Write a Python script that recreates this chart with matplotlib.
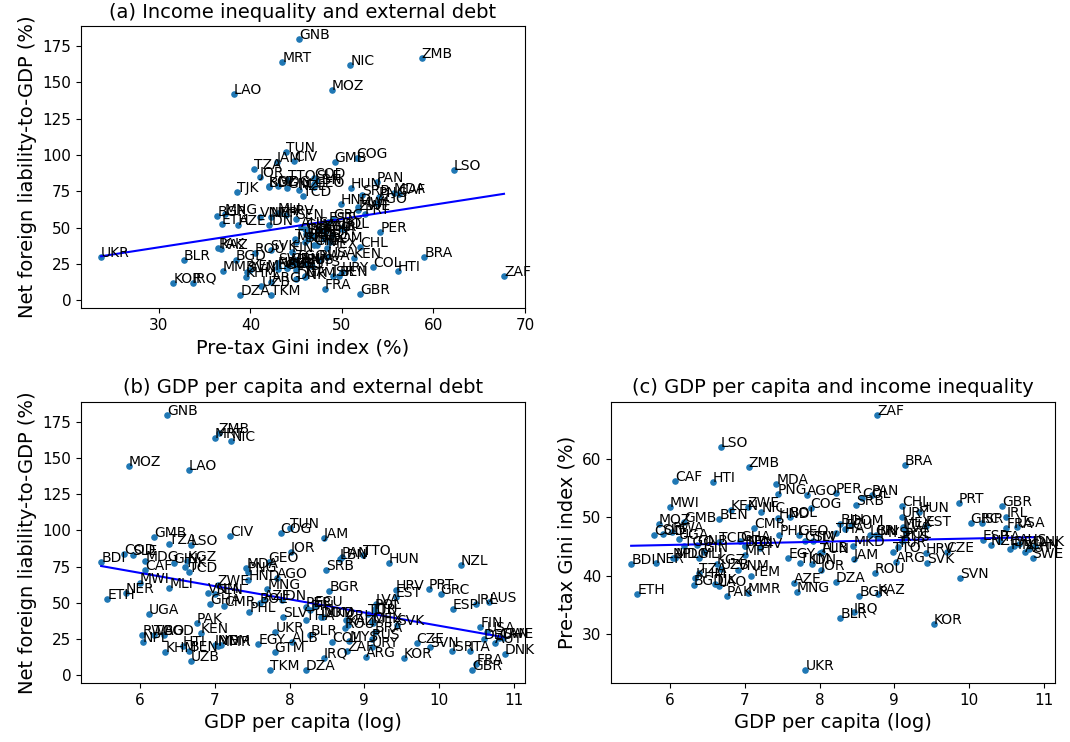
import numpy as np
import matplotlib
matplotlib.use("Agg")
import matplotlib.pyplot as plt

# country codes, log GDP per capita, net foreign liability (% GDP), pre-tax Gini (%)
codes = ["GNB","MRT","NIC","ZMB","LAO","MOZ","LSO","TUN","JAM","CIV",
         "TZA","JOR","GMB","COG","TTO","COD","SLE","TCD","KGZ","TJK",
         "MDG","CAF","HTI","MWI","MLI","NER","ETH","BDI","UGA","RWA",
         "NPL","TGO","KHM","BEN","UZB","PAK","KEN","IND","MMR","YEM",
         "EGY","PHL","GHA","VNM","ZWE","MDA","PNG","GEO","HND","AGO",
         "MNG","SLV","UKR","ALB","GTM","TKM","DZA","LBN","PAN","HUN",
         "NZL","SRB","BGR","HRV","PRT","EST","GRC","AUS","IRL","ESP",
         "ECU","PER","LVA","POL","LTU","BRA","SVK","FIN","CAN","ISR",
         "ITA","DNK","FRA","GBR","CZE","SVN","KOR","ARG","ZAF","URY",
         "IRQ","COL","MYS","THA","DOM","BLR","ROU","KAZ","BGD","MEX",
         "CHL","CRI","TUR","RUS","BIH","MKD","CMR","SEN","BOL","IDN",
         "AZE","SWE","AUT","USA","DEU","GIN"]
gdp = [6.36,7.00,7.22,7.05,6.65,5.85,6.68,8.00,8.46,7.20,
       6.39,8.02,6.19,7.88,8.98,5.79,5.90,6.66,6.63,6.60,
       6.07,6.07,6.57,6.00,6.39,5.81,5.56,5.48,6.12,6.03,
       6.04,6.19,6.34,6.66,6.68,6.76,6.81,7.00,7.04,7.08,
       7.58,7.46,6.94,6.91,7.04,7.42,7.44,7.72,7.45,7.83,
       7.70,7.91,7.81,8.03,7.80,7.74,8.22,8.67,8.70,9.33,
       10.29,8.49,8.53,9.42,9.86,9.42,10.02,10.67,10.50,10.18,
       8.34,8.22,9.15,9.14,9.13,9.14,9.44,10.55,10.80,10.17,
       10.41,10.88,10.50,10.44,9.70,9.88,9.53,9.02,8.77,9.10,
       8.46,8.57,8.80,8.22,8.42,8.28,8.74,8.78,6.32,9.11,
       9.10,8.75,9.05,9.10,8.28,8.45,7.12,7.00,7.60,7.90,
       7.66,10.85,10.75,10.64,10.60,6.45]
debt = [180,164,162,167,142,144.5,90,102,95,96,
        90.6,85,95.5,98,83,84,83,71.5,79,74.7,
        79,73,20,64,60,57,52.5,78,42,28,
        23,28,16,17,10,36,29,21,20,21,
        21.5,43.5,49,57,62,74,71,78,66,67,
        59.5,40,30,23,16,3.5,3.5,80,81.5,77.5,
        76,72.5,58,59,59.5,54,56,50.5,49,45.6,
        48,47,49,45.6,42,30,34.5,33,26,17,
        17,14.5,8,4,22,19.5,12,12.5,16.5,19.5,
        12,23,23.5,38,40,28,32.5,35,28,36,
        36.7,38,42,25,45,40,48,56,50,52,
        52,26,22,30,25,77.5]
gini = [45.3,43.5,50.9,58.7,38.2,48.9,62.2,43.9,42.9,44.8,
        40.4,41.0,49.2,51.6,44.1,47.0,47.2,45.7,42.0,38.5,
        43.0,56.2,56.1,51.8,43.0,42.2,36.9,42.0,46.3,47.5,
        43.0,45.0,39.5,49.7,41.2,36.5,51.3,45.0,37.0,40.0,
        43.0,47.0,46.0,41.0,51.8,55.7,54.0,47.0,49.9,53.8,
        37.2,46.0,23.7,44.0,46.0,42.2,38.9,47.0,53.8,51.0,
        45.3,52.2,36.4,43.9,52.5,48.5,49.0,45.5,50.0,46.1,
        48.0,54.2,47.5,46.5,48.0,59.0,42.2,44.5,44.5,49.0,
        46.0,45.0,48.1,52.0,44.0,39.6,31.6,42.3,67.7,50.0,
        33.7,53.4,46.7,47.3,48.7,32.7,40.5,36.8,38.4,48.4,
        52.0,47.0,44.9,46.0,48.9,45.0,48.2,45.0,50.0,42.0,
        38.7,43.0,44.0,48.4,45.0,44.0]

gdp = np.array(gdp); debt = np.array(debt); gini = np.array(gini)

fig = plt.figure(figsize=(10.7, 7.42), dpi=100)
ax_a = fig.add_axes([0.0757, 0.5849, 0.415, 0.380])
ax_b = fig.add_axes([0.0757, 0.0795, 0.415, 0.379])
ax_c = fig.add_axes([0.571, 0.0795, 0.415, 0.379])

def panel(ax, x, y, title, xlabel, ylabel):
    ax.scatter(x, y, s=14, color="#1f77b4", zorder=2)
    for c, xi, yi in zip(codes, x, y):
        ax.annotate(c, (xi, yi), fontsize=10, zorder=3)
    k, b0 = np.polyfit(x, y, 1)
    xs = np.array([x.min(), x.max()])
    ax.plot(xs, k * xs + b0, color="blue", lw=1.5, zorder=2)
    ax.set_title(title, fontsize=14)
    ax.set_xlabel(xlabel, fontsize=14)
    ax.set_ylabel(ylabel, fontsize=14)
    ax.tick_params(labelsize=11)

panel(ax_a, gini, debt, "(a) Income inequality and external debt",
      "Pre-tax Gini index (%)", "Net foreign liability-to-GDP (%)")
panel(ax_b, gdp, debt, "(b) GDP per capita and external debt",
      "GDP per capita (log)", "Net foreign liability-to-GDP (%)")
panel(ax_c, gdp, gini, "(c) GDP per capita and income inequality",
      "GDP per capita (log)", "Pre-tax Gini index (%)")
ax_a.set_yticks([0, 25, 50, 75, 100, 125, 150, 175])
ax_b.set_yticks([0, 25, 50, 75, 100, 125, 150, 175])
ax_a.set_xticks([30, 40, 50, 60, 70])
ax_b.set_xticks([6, 7, 8, 9, 10, 11])
ax_c.set_xticks([6, 7, 8, 9, 10, 11])
ax_c.set_yticks([30, 40, 50, 60])

fig.savefig("out.png", dpi=100)
